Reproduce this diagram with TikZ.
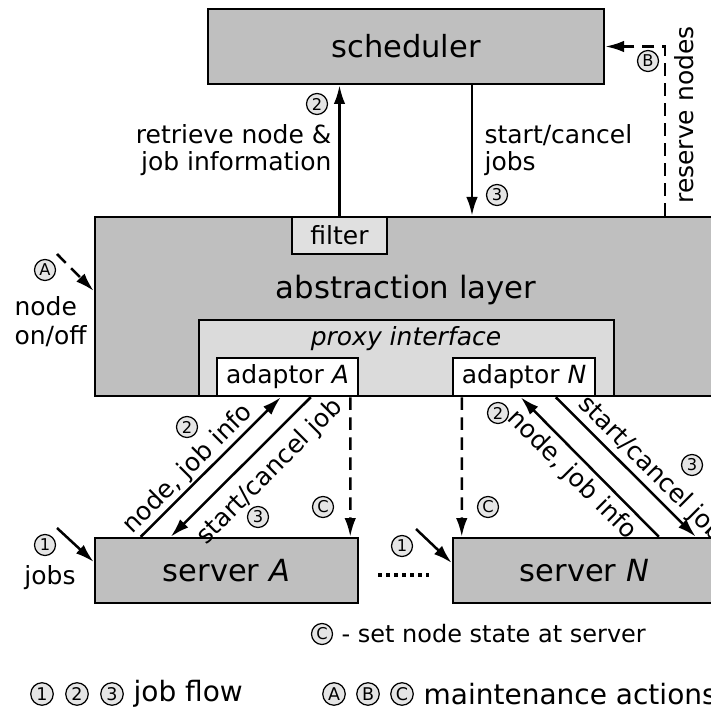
\documentclass[tikz,border=0pt]{standalone}
\usepackage{fontspec}
\setmainfont{DejaVu Sans}
\usetikzlibrary{arrows.meta}
\definecolor{boxgray}{gray}{0.75}
\definecolor{proxygray}{gray}{0.86}
\definecolor{filtergray}{gray}{0.88}
\definecolor{numgray}{gray}{0.9}
\begin{document}
\begin{tikzpicture}[x=0.4pt,y=-0.4pt,line width=1pt,
    every node/.style={font=\fontsize{10}{10.5}\selectfont},
    box/.style={draw,fill=boxgray,inner sep=0pt,font=\fontsize{12.2}{14}\selectfont},
    inbox/.style={draw,inner sep=0pt},
    cnum/.style={circle,draw,line width=0.5pt,fill=numgray,inner sep=0pt,minimum size=8.4pt,font=\fontsize{6.5}{7}\selectfont},
    keynum/.style={cnum,minimum size=9pt,font=\fontsize{7}{8}\selectfont},
    flow/.style={-{Latex[length=7.5pt,width=4.6pt]}},
    maint/.style={flow,dash pattern=on 5pt off 3pt}]
\useasboundingbox (0,0) rectangle (711,711);
% scheduler
\node[box,minimum width=158.4pt,minimum height=30pt] (sched) at (406,46.5) {scheduler};
% abstraction layer
\node[box,minimum width=248.8pt,minimum height=71.6pt] (abs) at (406,306.5) {};
\node[font=\fontsize{12.3}{14}\selectfont] (abstxt) at (406,290) {abstraction layer};
\node[inbox,fill=filtergray,minimum width=38pt,minimum height=14.8pt] (filter) at (339.5,235.5) {filter};
\node[inbox,fill=proxygray,minimum width=166pt,minimum height=30.4pt] (proxy) at (406.5,358) {};
\node (proxytxt) at (406,339) {\textit{proxy interface}};
\node[inbox,fill=white,minimum width=56.4pt,minimum height=15.2pt] (adA) at (287.5,377) {adaptor \textit{A}};
\node[inbox,fill=white,minimum width=56.8pt,minimum height=15.2pt] (adN) at (524,377) {adaptor \textit{N}};
% servers
\node[box,minimum width=105.2pt,minimum height=26pt] (srvA) at (226.5,570.5) {server \textit{A}};
\node[box,minimum width=105.2pt,minimum height=26pt] (srvN) at (584.5,570.5) {server \textit{N}};
\draw[dash pattern=on 1.6pt off 1.6pt,line width=1.4pt,shorten <=7.6pt,shorten >=9.2pt]
  ([yshift=-1.8pt]srvA.east) -- ([yshift=-1.8pt]srvN.west);

% scheduler <-> abstraction layer
\draw[flow] (filter.north) -- (filter.north |- sched.south);
\node[cnum] (n2top) at (317,104) {2};
\node[anchor=east,align=right] (retrieve) at (341,150) {retrieve node \&\\job information};
\draw[flow] ([xshift=26.4pt]sched.south) -- ([xshift=26.4pt]abs.north);
\node[anchor=west,align=left] (startjobs) at (475,150) {start/cancel\\jobs};
\node[cnum] (n3top) at (497,195) {3};
% reserve nodes
\draw[maint] ([xshift=103.6pt]abs.north) |- (sched.east);
\node[cnum] (nB) at (648,61) {B};
\node[rotate=90] (reserve) at (684,115) {reserve nodes};
% node on/off
\coordinate (onoff) at (57,254);
\draw[maint] (onoff) -- ([yshift=6.2pt]abs.west);
\node[cnum] (nA) at (45,270) {A};
\node[anchor=west,align=left,font=\fontsize{10}{11.6}\selectfont] (nodeonoff) at (5,322) {node\\on/off};

% server A
\coordinate (jobsinA) at (57,528);
\draw[flow] (jobsinA) -- ([yshift=3.4pt]srvA.west);
\node[cnum] (n1A) at (45,545) {1};
\node (jobs) at (50,578) {jobs};
\draw[flow] ([xshift=18.8pt]srvA.north west) -- ([xshift=26pt]adA.south west);
\draw[flow] ([xshift=38pt]adA.south west) -- ([xshift=30.8pt]srvA.north west);
\draw[maint] ([xshift=-3.6pt]adA.south east) -- ([xshift=-3.6pt]srvA.north east);
\node[cnum] (n2A) at (187,427) {2};
\node[rotate=45] (infoA) at (188,469) {node, job info};
\node[rotate=45] (cancelA) at (270,472) {start/cancel job};
\node[cnum] (n3A) at (258,517) {3};
\node[cnum] (nCA) at (323,507) {C};

% server N
\coordinate (jobsinN) at (416,529);
\draw[flow] (jobsinN) -- ([yshift=3pt]srvN.west);
\node[cnum] (n1N) at (402,546) {1};
\draw[maint] ([xshift=4pt]adN.south west) -- ([xshift=4pt]srvN.north west);
\draw[flow] ([xshift=82.8pt]srvN.north west) -- ([xshift=27.6pt]adN.south west);
\draw[flow] ([xshift=41.6pt]adN.south west) -- ([xshift=97.6pt]srvN.north west);
\node[cnum] (nCN) at (488,507) {C};
\node[cnum] (n2N) at (498,413) {2};
\node[rotate=-45] (infoN) at (572,475) {node, job info};
\node[rotate=-45] (cancelN) at (651,469) {start/cancel job};
\node[cnum] (n3N) at (692,465) {3};

% legend
\node[cnum] (kCset) at (322,634) {C};
\node[anchor=west,font=\fontsize{9.6}{10}\selectfont] (setstate) at (332,634) {- set node state at server};
\node[keynum] (k1) at (42,694) {1};
\node[keynum] (k2) at (77,694) {2};
\node[keynum] (k3) at (112,694) {3};
\node[anchor=west,font=\fontsize{11.2}{12}\selectfont] (jobflow) at (124,694) {job flow};
\node[keynum] (kA) at (334,694) {A};
\node[keynum] (kB) at (368,694) {B};
\node[keynum] (kC) at (402,694) {C};
\node[anchor=west,font=\fontsize{11.2}{12}\selectfont] (maintact) at (414,694) {maintenance actions};
\end{tikzpicture}
\end{document}
